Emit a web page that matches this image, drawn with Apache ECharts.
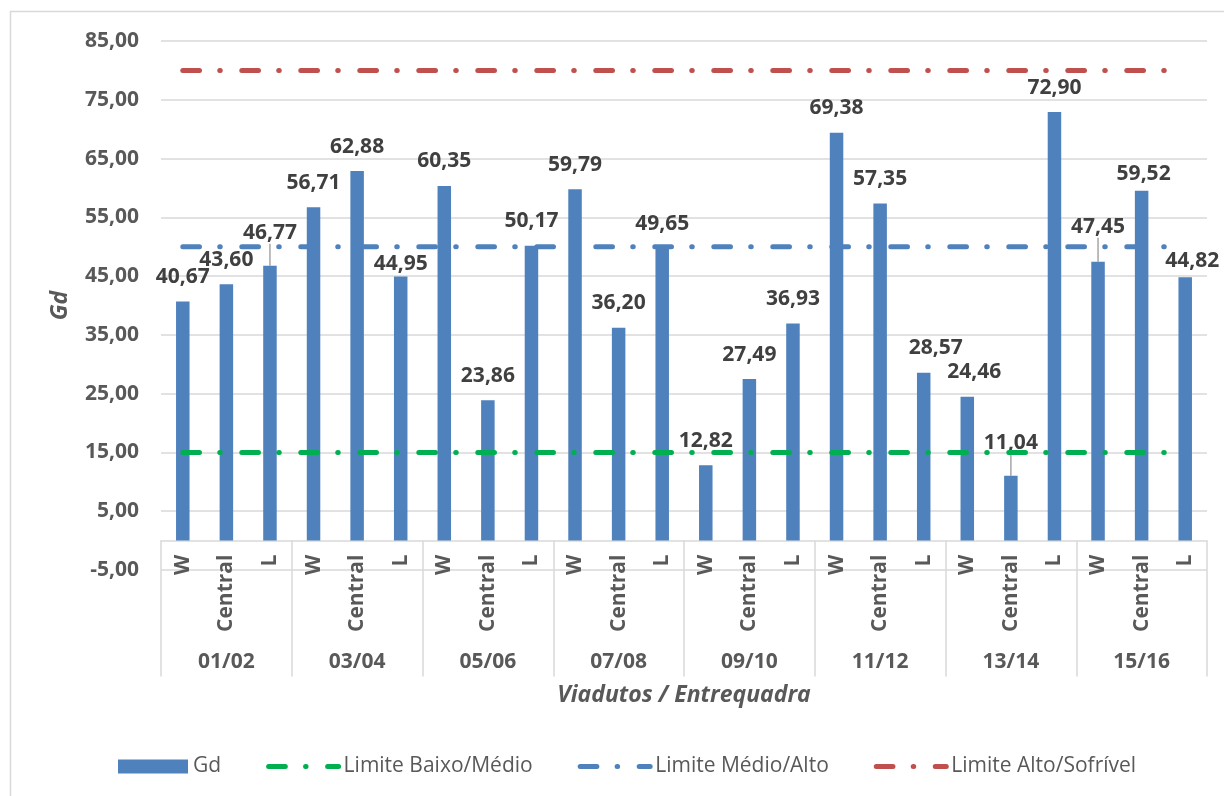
<!DOCTYPE html>
<html>
<head>
<meta charset="utf-8">
<script src="https://cdn.jsdelivr.net/npm/echarts@6/dist/echarts.min.js"></script>
<style>
  html, body { margin: 0; padding: 0; background: #ffffff; }
  #chart { width: 1224px; height: 796px; }
</style>
</head>
<body>
<div id="chart"></div>
<script>
// Viadutos / Entrequadra: groups and positions inside each group
const grupos = ['01/02', '03/04', '05/06', '07/08', '09/10', '11/12', '13/14', '15/16'];
const posicoes = ['W', 'Central', 'L'];

// Gd per position, in group order
const gd = [
  40.67, 43.60, 46.77,
  56.71, 62.88, 44.95,
  60.35, 23.86, 50.17,
  59.79, 36.20, 49.65,
  12.82, 27.49, 36.93,
  69.38, 57.35, 28.57,
  24.46, 11.04, 72.90,
  47.45, 59.52, 44.82
];

// Threshold lines
const limiteBaixoMedio = [15, 15, 15, 15, 15, 15, 15, 15, 15, 15, 15, 15, 15, 15, 15, 15, 15, 15, 15, 15, 15, 15, 15, 15];
const limiteMedioAlto = [50, 50, 50, 50, 50, 50, 50, 50, 50, 50, 50, 50, 50, 50, 50, 50, 50, 50, 50, 50, 50, 50, 50, 50];
const limiteAltoSofrivel = [80, 80, 80, 80, 80, 80, 80, 80, 80, 80, 80, 80, 80, 80, 80, 80, 80, 80, 80, 80, 80, 80, 80, 80];

// Value axis range
const yMin = -5;
const yMax = 85;
const yStep = 10;

// Hand-placed value labels (pixel nudges, leader line flag)
const labelNudge = {
  2: { dy: -8, line: true },
  5: { dy: 12 },
  17: { dx: 12 },
  18: { dx: 7 },
  19: { dy: -8, line: true },
  21: { dy: -10, line: true },
  22: { dx: 2, dy: 8 },
  23: { dx: 7, dy: 8 }
};

const FONT = 'Open Sans';
const GREY = '#595959';
const GRID = '#d9d9d9';

// Category axis sits on the zero line: distance from the plot bottom (-5) up to 0
const ZERO_OFFSET = -(796 - 226 - 41) * (0 - yMin) / (yMax - yMin);

// One unique key per bar; only the position part is printed
const categorias = [];
grupos.forEach(g => posicoes.forEach(p => categorias.push(p + '|' + g)));

const fmt = v => Number(v).toFixed(2).replace('.', ',');

const gdData = gd.map((v, i) => {
  const n = labelNudge[i];
  return (n && n.line) ? { value: v, labelLine: { show: true } } : v;
});

// long dash, dot (round caps)
const dashDot = [16.7, 20.25, 0.5, 21.55];

function limitSeries(name, data, color) {
  return {
    name: name,
    type: 'line',
    data: data,
    symbol: 'none',
    showSymbol: false,
    silent: true,
    z: 3,
    lineStyle: { color: color, width: 5, type: dashDot, cap: 'round' },
    itemStyle: { color: color }
  };
}

const clearFill = { color: 'rgba(0,0,0,0)' };

const chart = echarts.init(document.getElementById('chart'), null, { renderer: 'canvas' });

chart.setOption({
  animation: false,
  backgroundColor: '#ffffff',
  textStyle: { fontFamily: FONT },
  graphic: [{
    type: 'rect',
    shape: { x: 10.5, y: 11.5, width: 1240, height: 820 },
    style: { fill: 'none', stroke: GRID, lineWidth: 1.5 },
    silent: true,
    z: -10
  }],
  grid: { left: 161, right: 17, top: 41, bottom: 226, containLabel: false },
  legend: {
    left: 113,
    top: 751,
    itemWidth: 70,
    itemHeight: 14,
    itemGap: 45,
    lineStyle: { width: 5, cap: 'round' },
    textStyle: { fontFamily: FONT, fontSize: 21, color: GREY },
    data: [
      { name: 'Gd', icon: 'rect' },
      { name: 'Limite Baixo/Médio', itemStyle: clearFill },
      { name: 'Limite Médio/Alto', itemStyle: clearFill },
      { name: 'Limite Alto/Sofrível', itemStyle: clearFill }
    ]
  },
  xAxis: [
    {
      type: 'category',
      data: categorias,
      position: 'bottom',
      offset: ZERO_OFFSET,
      boundaryGap: true,
      axisLine: { show: true, onZero: false, lineStyle: { color: GRID, width: 1.5 } },
      axisTick: { show: false },
      axisLabel: {
        interval: 0,
        rotate: 90,
        margin: 14,
        fontFamily: FONT,
        fontSize: 21,
        fontWeight: 'bold',
        color: GREY,
        formatter: v => v.split('|')[0]
      },
      splitLine: { show: false }
    },
    {
      type: 'category',
      data: grupos,
      position: 'bottom',
      offset: ZERO_OFFSET,
      boundaryGap: true,
      axisLine: { show: false, onZero: false },
      axisTick: { show: true, interval: 0, length: 136, lineStyle: { color: GRID, width: 1.5 } },
      axisLabel: {
        interval: 0,
        margin: 111,
        fontFamily: FONT,
        fontSize: 21,
        fontWeight: 'bold',
        color: GREY
      },
      name: 'Viadutos / Entrequadra',
      nameLocation: 'middle',
      nameGap: 143,
      nameTextStyle: { fontFamily: FONT, fontSize: 23, fontWeight: 'bold', fontStyle: 'italic', color: GREY }
    }
  ],
  yAxis: {
    type: 'value',
    min: yMin,
    max: yMax,
    interval: yStep,
    axisLine: { show: false },
    axisTick: { show: false },
    splitLine: { show: true, lineStyle: { color: GRID, width: 1.5 } },
    axisLabel: {
      margin: 22,
      fontFamily: FONT,
      fontSize: 21,
      fontWeight: 'bold',
      color: GREY,
      formatter: fmt
    },
    name: 'Gd',
    nameLocation: 'middle',
    nameRotate: 90,
    nameGap: 89,
    nameTextStyle: { fontFamily: FONT, fontSize: 23, fontWeight: 'bold', fontStyle: 'italic', color: GREY }
  },
  series: [
    {
      name: 'Gd',
      type: 'bar',
      xAxisIndex: 0,
      data: gdData,
      barWidth: 13.5,
      z: 2,
      itemStyle: { color: '#4f81bd' },
      label: {
        show: true,
        position: 'top',
        distance: 14,
        fontFamily: FONT,
        fontSize: 21,
        fontWeight: 'bold',
        color: '#404040',
        formatter: p => fmt(p.value)
      },
      labelLine: { show: false, lineStyle: { color: '#a6a6a6', width: 1.5 } },
      labelLayout: p => {
        const n = labelNudge[p.dataIndex];
        return n ? { dx: n.dx || 0, dy: n.dy || 0 } : {};
      }
    },
    limitSeries('Limite Baixo/Médio', limiteBaixoMedio, '#00b050'),
    limitSeries('Limite Médio/Alto', limiteMedioAlto, '#4f81bd'),
    limitSeries('Limite Alto/Sofrível', limiteAltoSofrivel, '#c0504d')
  ]
});
</script>
</body>
</html>
